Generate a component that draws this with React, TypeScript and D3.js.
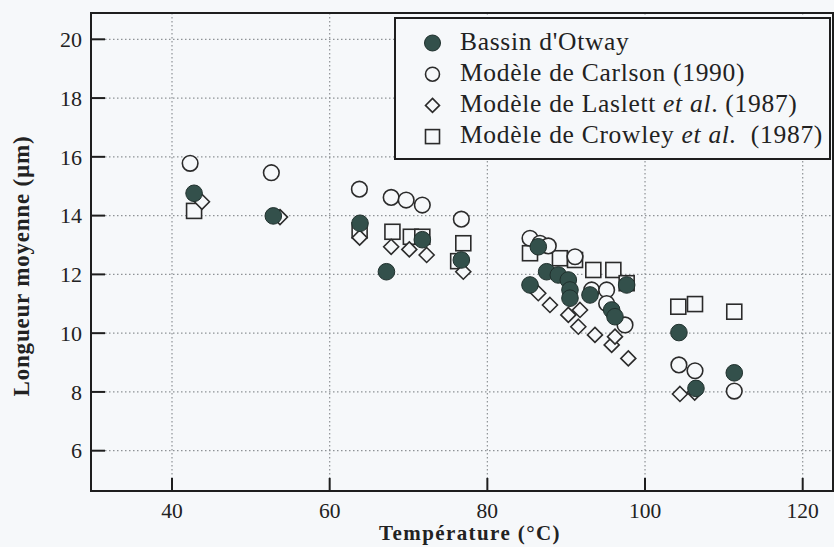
import React from "react";
import * as d3 from "d3";

const xTicks = [40, 60, 80, 100, 120];
const yTicks = [6, 8, 10, 12, 14, 16, 18, 20];

// Bassin d'Otway (filled circles)
const otway: [number, number][] = [
  [42.8, 14.76], [52.85, 13.99], [63.85, 13.74], [67.2, 12.09], [71.75, 13.18], [76.7, 12.49],
  [85.41, 11.64], [86.46, 12.94], [87.52, 12.09], [89.0, 11.98], [90.27, 11.81], [90.48, 11.47],
  [90.48, 11.19], [93.02, 11.3], [95.77, 10.79], [96.19, 10.56], [97.67, 11.64],
  [104.3, 10.02], [106.46, 8.12], [111.32, 8.65],
];
// Modèle de Carlson (1990) (open circles)
const carlson: [number, number][] = [
  [42.3, 15.78], [52.6, 15.46], [63.77, 14.9], [67.8, 14.62], [69.7, 14.53], [71.75, 14.36],
  [76.7, 13.88], [85.41, 13.23], [86.68, 13.06], [87.73, 12.97], [91.12, 12.6], [93.23, 11.47],
  [95.13, 11.47], [95.13, 11.01], [97.46, 10.28], [104.3, 8.92], [106.34, 8.72], [111.32, 8.03],
];
// Modèle de Laslett et al. (1987) (diamonds)
const laslett: [number, number][] = [
  [43.8, 14.47], [53.7, 13.95], [63.8, 13.25], [67.8, 12.94], [70.1, 12.85], [72.3, 12.66],
  [76.95, 12.09], [86.46, 11.36], [87.94, 10.96], [90.27, 10.62], [91.75, 10.79], [91.54, 10.22],
  [93.65, 9.94], [95.77, 9.6], [96.19, 9.88], [97.88, 9.14], [104.43, 7.93], [106.3, 7.98],
];
// Modèle de Crowley et al. (1987) (squares)
const crowley: [number, number][] = [
  [42.8, 14.16], [63.8, 13.5], [67.96, 13.45], [70.3, 13.28], [71.75, 13.28], [76.95, 13.06],
  [76.3, 12.45], [85.41, 12.72], [89.21, 12.55], [91.12, 12.49], [93.44, 12.15], [95.98, 12.15],
  [97.67, 11.7], [104.22, 10.9], [106.34, 10.99], [111.32, 10.73],
];

const W = 834, H = 547;
const L = 91, T = 13, R = 833, B = 491;
const BG = "#f6f8fa";
const FILL = "#33504b";
const FILL_STROKE = "#20302d";
const OPEN = "#2b2b2b";
const SERIF = "Liberation Serif, DejaVu Serif, serif";

export default function App() {
  const x = d3.scaleLinear().domain([40, 120]).range([172, 802.7]);
  const y = d3.scaleLinear().domain([6, 20]).range([450.7, 39.3]);
  const diamond = (cx: number, cy: number, r: number) =>
    `M${cx},${cy - r}L${cx + r},${cy}L${cx},${cy + r}L${cx - r},${cy}Z`;

  const legendItems = [
    { kind: "filled", label: <tspan>Bassin d'Otway</tspan> },
    { kind: "circle", label: <tspan>Modèle de Carlson (1990)</tspan> },
    {
      kind: "diamond",
      label: (
        <>
          <tspan>Modèle de Laslett </tspan>
          <tspan fontStyle="italic">et al</tspan>
          <tspan>. (1987)</tspan>
        </>
      ),
    },
    {
      kind: "square",
      label: (
        <>
          <tspan>Modèle de Crowley </tspan>
          <tspan fontStyle="italic">et al.</tspan>
          <tspan>{"\u00a0 (1987)"}</tspan>
        </>
      ),
    },
  ];

  return (
    <svg
      width={W}
      height={H}
      style={{ position: "absolute", left: 0, top: 0, background: BG, fontFamily: SERIF }}
    >
      <rect x={0} y={0} width={W} height={H} fill={BG} />
      {/* grid */}
      {yTicks.map((t) => (
        <line key={"gy" + t} x1={105} x2={R} y1={y(t)} y2={y(t)} stroke="#8e9296" strokeWidth={1.2} strokeDasharray="1.5 2.5" />
      ))}
      {xTicks.map((t) => (
        <line key={"gx" + t} x1={x(t)} x2={x(t)} y1={T} y2={478} stroke="#8e9296" strokeWidth={1.2} strokeDasharray="1.5 2.5" />
      ))}
      {/* marks */}
      {crowley.map((d, i) => (
        <rect key={"c" + i} x={x(d[0]) - 7.5} y={y(d[1]) - 7.5} width={15} height={15} fill={BG} stroke={OPEN} strokeWidth={1.6} />
      ))}
      {laslett.map((d, i) => (
        <path key={"l" + i} d={diamond(x(d[0]), y(d[1]), 7.5)} fill={BG} stroke={OPEN} strokeWidth={1.6} />
      ))}
      {carlson.map((d, i) => (
        <circle key={"k" + i} cx={x(d[0])} cy={y(d[1])} r={7.8} fill={BG} stroke={OPEN} strokeWidth={1.6} />
      ))}
      {otway.map((d, i) => (
        <circle key={"o" + i} cx={x(d[0])} cy={y(d[1])} r={8.3} fill={FILL} stroke={FILL_STROKE} strokeWidth={1} />
      ))}
      {/* frame */}
      <rect x={L} y={T} width={R - L} height={B - T} fill="none" stroke="#1e1e1e" strokeWidth={2} />
      {yTicks.map((t) => (
        <g key={"ty" + t}>
          <line x1={L} x2={105} y1={y(t)} y2={y(t)} stroke="#1e1e1e" strokeWidth={2} />
          <text x={82} y={y(t)} dy="0.35em" textAnchor="end" fontSize={22} fill="#222" fontFamily={SERIF}>
            {t}
          </text>
        </g>
      ))}
      {xTicks.map((t) => (
        <g key={"tx" + t}>
          <line x1={x(t)} x2={x(t)} y1={B} y2={478} stroke="#1e1e1e" strokeWidth={2} />
          <text x={x(t)} y={518} textAnchor="middle" fontSize={21.5} fill="#222" fontFamily={SERIF}>
            {t}
          </text>
        </g>
      ))}
      {/* axis titles */}
      <text x={470} y={540} textAnchor="middle" fontSize={21} fontWeight="bold" fill="#222" letterSpacing={1.4} fontFamily={SERIF}>
        Température (°C)
      </text>
      <text
        transform={`translate(29,266) rotate(-90)`}
        textAnchor="middle"
        fontSize={23}
        fontWeight="bold"
        fill="#222"
        letterSpacing={0.8}
        fontFamily={SERIF}
      >
        Longueur moyenne (µm)
      </text>
      {/* legend */}
      <rect x={395} y={18} width={435} height={141} fill={BG} stroke="#1e1e1e" strokeWidth={2} />
      {legendItems.map((it, i) => {
        const cy = 43 + i * 31.2;
        const cx = 432.5;
        return (
          <g key={"lg" + i}>
            {it.kind === "filled" && <circle cx={cx} cy={cy} r={8} fill={FILL} stroke={FILL_STROKE} strokeWidth={1} />}
            {it.kind === "circle" && <circle cx={cx} cy={cy} r={7} fill={BG} stroke={OPEN} strokeWidth={1.6} />}
            {it.kind === "diamond" && <path d={diamond(cx, cy, 7)} fill={BG} stroke={OPEN} strokeWidth={1.6} />}
            {it.kind === "square" && <rect x={cx - 7} y={cy - 7} width={14} height={14} fill={BG} stroke={OPEN} strokeWidth={1.6} />}
            <text x={460} y={cy + 6.5} fontSize={25.5} fill="#222" letterSpacing={0.7} fontFamily={SERIF}>
              {it.label}
            </text>
          </g>
        );
      })}
    </svg>
  );
}
